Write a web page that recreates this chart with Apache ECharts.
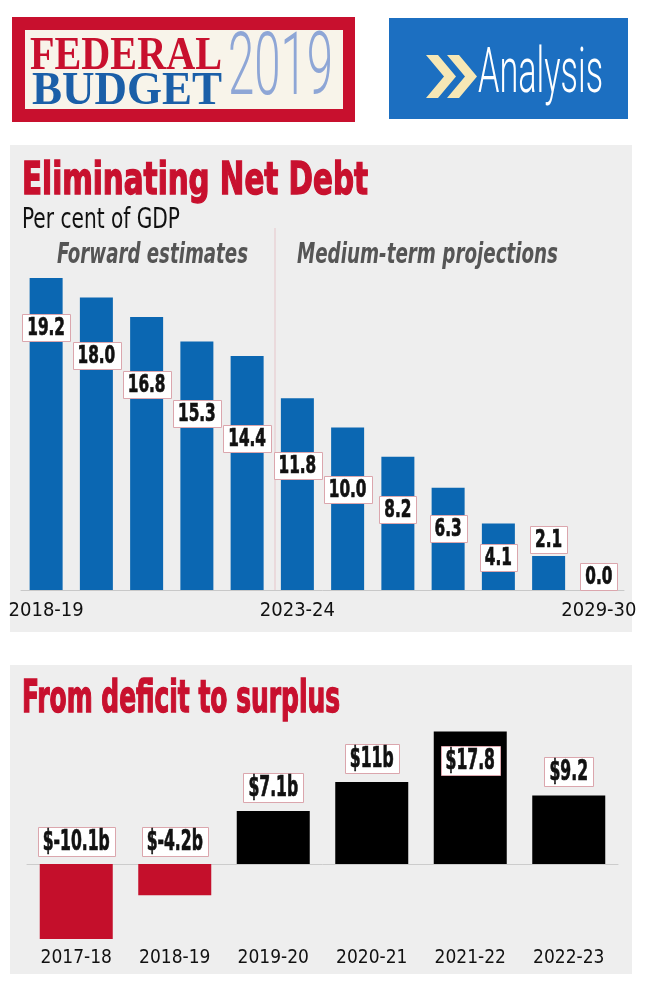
<!DOCTYPE html>
<html><head><meta charset="utf-8">
<script src="https://cdn.jsdelivr.net/npm/echarts@6/dist/echarts.min.js"></script>
<style>html,body{margin:0;padding:0;background:#fff}#c{width:650px;height:1000px}</style>
</head><body><div id="c"></div>
<script>
// ---- data ----
const debtYears = ['2018-19','2019-20','2020-21','2021-22','2022-23','2023-24','2024-25','2025-26','2026-27','2027-28','2028-29','2029-30'];
const debtValues = [19.2, 18.0, 16.8, 15.3, 14.4, 11.8, 10.0, 8.2, 6.3, 4.1, 2.1, 0.0];
const debtTickIndices = [0, 5, 11];
const budgetYears = ['2017-18','2018-19','2019-20','2020-21','2021-22','2022-23'];
const budgetValues = [-10.1, -4.2, 7.1, 11, 17.8, 9.2];
const budgetLabels = ['$-10.1b','$-4.2b','$7.1b','$11b','$17.8','$9.2'];

// ---- layout: label centre drop below bar top, px ----
const labelDrop = [49, 58, 67, 72, 82, 67, 62, 53, 41, 34, -16, -14];

const COND = '"Liberation Sans Narrow","DejaVu Sans Condensed",sans-serif';
const LBL = '"DejaVu Sans Condensed",sans-serif';
const cv = document.createElement('canvas').getContext('2d');
function fitText(text, x, capMid, w, size, opts) {
  opts = opts || {};
  const weight = opts.weight || 'normal', style = opts.style || 'normal', family = opts.family || COND;
  cv.font = style + ' ' + weight + ' ' + size + 'px ' + family;
  const s = w / cv.measureText(text).width;
  const st = { text: text, fontFamily: family, fontSize: size, fontWeight: weight, fontStyle: style,
      fill: opts.color || '#000', align: 'left', verticalAlign: 'middle' };
  if (opts.heavy) { st.stroke = opts.color; st.lineWidth = opts.heavy; }
  return { type: 'text', x: x, y: capMid, scaleX: s, z: 5, style: st };
}
function labelBox(text, cx, cy, size, sx, padX, h) {
  cv.font = 'bold ' + size + 'px ' + LBL;
  const w = cv.measureText(text).width * sx + padX * 2;
  return {type: 'group', children: [
    {type: 'rect', shape: {x: Math.round(cx - w / 2) + 0.5, y: Math.round(cy - h / 2) + 0.5, width: Math.round(w), height: h},
     style: {fill: '#ffffff', stroke: '#dba6ad', lineWidth: 1}},
    {type: 'text', x: cx, y: cy + 1, scaleX: sx,
     style: {text: text, fontFamily: LBL, fontSize: size, fontWeight: 'bold', fill: '#111',
       stroke: '#111', lineWidth: 0.7, align: 'center', verticalAlign: 'middle'}}
  ]};
}

const chart = echarts.init(document.getElementById('c'), null, {renderer: 'canvas'});
const maxBudget = Math.max.apply(null, budgetValues);

const graphics = [
  {type:'rect', shape:{x:10,y:145,width:622,height:487}, style:{fill:'#eeeeee'}, z:-10},
  {type:'rect', shape:{x:10,y:665,width:622,height:309}, style:{fill:'#eeeeee'}, z:-10},
  {type:'rect', shape:{x:12,y:17,width:343,height:105}, style:{fill:'#c8102e'}, z:-10},
  {type:'rect', shape:{x:25,y:30,width:318,height:79}, style:{fill:'#f8f4ea'}, z:-9},
  {type:'rect', shape:{x:389,y:18,width:239,height:101}, style:{fill:'#1c6fc1'}, z:-10},
  {type:'polygon', shape:{points:[[426,55],[438,55],[456,76.5],[438,98],[426,98],[444,76.5]]}, style:{fill:'#f6e7b5'}, z:-8},
  {type:'polygon', shape:{points:[[447,55],[459,55],[477,76.5],[459,98],[447,98],[465,76.5]]}, style:{fill:'#f6e7b5'}, z:-8},
  {type:'line', shape:{x1:275,y1:228,x2:275,y2:590}, style:{stroke:'#e6c6ca', lineWidth:1}, z:-5},
  fitText('FEDERAL', 30, 57, 192, 46, {weight:'bold', family:'"Liberation Serif",serif', color:'#c8102e'}),
  fitText('BUDGET', 32, 92, 190, 46, {weight:'bold', family:'"Liberation Serif",serif', color:'#1b5fa8'}),
  fitText('2019', 228, 72, 105, 88, {weight:'300', family:'Roboto,sans-serif', color:'#8ea6d6'}),
  fitText('Analysis', 478, 76, 125, 63, {weight:'300', family:'Roboto,sans-serif', color:'#ffffff'}),
  fitText('Eliminating Net Debt', 22, 182, 346, 45, {weight:'bold', color:'#c8102e', heavy:1.4}),
  fitText('Per cent of GDP', 22, 220, 158, 29, {color:'#111'}),
  fitText('Forward estimates', 57, 256, 191, 28, {weight:'bold', style:'italic', color:'#555'}),
  fitText('Medium-term projections', 297, 256, 261, 28, {weight:'bold', style:'italic', color:'#555'}),
  fitText('From deficit to surplus', 22, 701, 318, 44, {weight:'bold', color:'#c8102e', heavy:1.4})
];

const option = {
  animation: false,
  backgroundColor: '#ffffff',
  graphic: graphics,
  grid: [
    {left: 21, top: 265, width: 603, height: 325},
    {left: 27, top: 730, width: 591, height: 212}
  ],
  xAxis: [
    {gridIndex: 0, type: 'category', data: debtYears,
     axisLine: {lineStyle: {color: '#c8c8c8', width: 1}}, axisTick: {show: false},
     axisLabel: {interval: function (i) { return debtTickIndices.indexOf(i) >= 0; },
       fontFamily: COND, fontSize: 20, color: '#111', margin: 11}},
    {gridIndex: 1, type: 'category', data: budgetYears,
     axisLine: {onZero: true, lineStyle: {color: '#cccccc', width: 1}}, axisTick: {show: false},
     axisLabel: {show: false}},
    {gridIndex: 1, type: 'category', data: budgetYears, position: 'bottom',
     axisLine: {show: false, onZero: false}, axisTick: {show: false},
     axisLabel: {interval: 0, fontFamily: COND, fontSize: 19, color: '#111', margin: 7}}
  ],
  yAxis: [
    {gridIndex: 0, type: 'value', min: 0, max: 20, show: false},
    {gridIndex: 1, type: 'value', min: -10.5, max: 18, show: false}
  ],
  series: [
    {type: 'bar', xAxisIndex: 0, yAxisIndex: 0, barWidth: 33,
     itemStyle: {color: '#0b67b2'}, data: debtValues},
    {type: 'custom', xAxisIndex: 0, yAxisIndex: 0, z: 5, clip: false,
     data: debtValues.map(function (v, i) { return [i, v]; }),
     encode: {x: 0, y: 1},
     renderItem: function (params, api) {
       const pt = api.coord([api.value(0), api.value(1)]);
       const cy = pt[1] + labelDrop[params.dataIndex];
       return labelBox(api.value(1).toFixed(1), pt[0], cy, 25, 0.68, 5, 27);
     }},
    {type: 'bar', xAxisIndex: 1, yAxisIndex: 1, barWidth: 73,
     data: budgetValues.map(function (v) {
       return {value: v, itemStyle: {color: v < 0 ? '#c40f2b' : '#000000'}};
     })},
    {type: 'custom', xAxisIndex: 1, yAxisIndex: 1, z: 5, clip: false,
     data: budgetValues.map(function (v, i) { return [i, v]; }),
     encode: {x: 0, y: 1},
     renderItem: function (params, api) {
       const v = api.value(1), h = 29;
       const top = api.coord([api.value(0), Math.max(v, 0)]);
       let cy;
       if (v < 0) cy = top[1] - 8 - h / 2;
       else if (v === maxBudget) cy = top[1] + 15 + h / 2;
       else cy = top[1] - 9 - h / 2;
       return labelBox(budgetLabels[params.dataIndex], top[0], cy, 28, 0.62, 5, h);
     }}
  ]
};
chart.setOption(option);
</script></body></html>
